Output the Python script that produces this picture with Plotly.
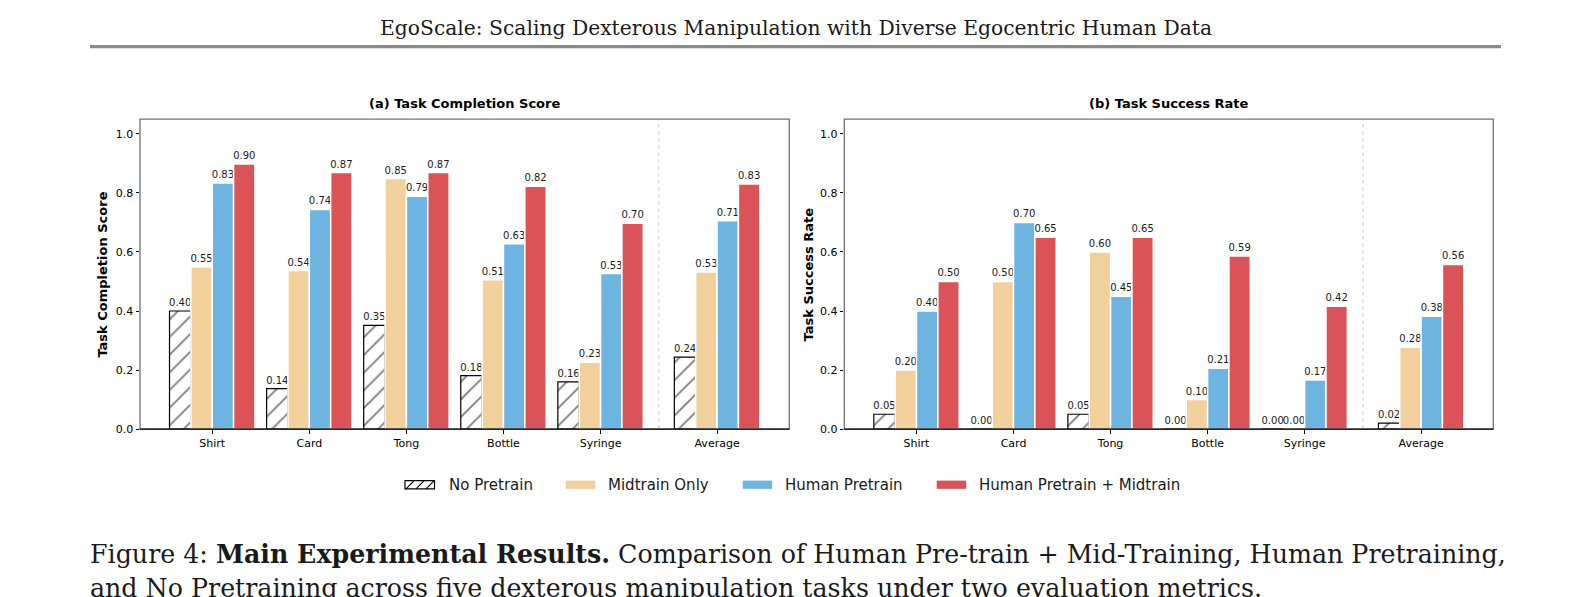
import plotly.graph_objects as go

# ---------------- data ----------------
categories = ["Shirt", "Card", "Tong", "Bottle", "Syringe", "Average"]
cat_pos = [0, 1, 2, 3, 4, 5.2]
series_names = ["No Pretrain", "Midtrain Only", "Human Pretrain", "Human Pretrain + Midtrain"]

completion_no_pretrain = [0.40, 0.137, 0.351, 0.181, 0.16, 0.244]
completion_midtrain = [0.549, 0.537, 0.849, 0.506, 0.226, 0.532]
completion_human = [0.834, 0.744, 0.789, 0.628, 0.527, 0.706]
completion_human_mid = [0.898, 0.869, 0.869, 0.823, 0.697, 0.830]

success_no_pretrain = [0.05, 0.00, 0.05, 0.00, 0.00, 0.02]
success_midtrain = [0.20, 0.50, 0.60, 0.10, 0.00, 0.277]
success_human = [0.40, 0.70, 0.45, 0.206, 0.166, 0.382]
success_human_mid = [0.50, 0.65, 0.65, 0.586, 0.416, 0.558]

y_ticks = [0.0, 0.2, 0.4, 0.6, 0.8, 1.0]
panel_titles = ["(a) Task Completion Score", "(b) Task Success Rate"]
y_titles = ["Task Completion Score", "Task Success Rate"]

header_text = "EgoScale: Scaling Dexterous Manipulation with Diverse Egocentric Human Data"
caption_line1 = ("Figure 4: <b>Main Experimental Results.</b> Comparison of Human Pre-train + "
                 "Mid-Training, Human Pretraining,")
caption_line2 = "and No Pretraining across five dexterous manipulation tasks under two evaluation metrics."

colors = ["#ffffff", "#F2D09C", "#6DB4E0", "#D95359"]

# ---------------- layout helpers ----------------
W, H = 1592, 597
H_EFF = 589.0  # effective paper height observed in the rendered page
def px(x):
    return x / W
def py(y):
    return 1 - y / H_EFF

SANS = "DejaVu Sans"
SERIF = "DejaVu Serif"
bar_w = 0.22
n_series = 4

fig = go.Figure()

panels = [
    (["x", "y"], [completion_no_pretrain, completion_midtrain, completion_human, completion_human_mid]),
    (["x2", "y2"], [success_no_pretrain, success_midtrain, success_human, success_human_mid]),
]

for (xa, ya), series in panels:
    for i, vals in enumerate(series):
        if i == 0:
            marker = dict(color="#ffffff",
                          line=dict(color="black", width=1.2),
                          pattern=dict(shape="/", fgcolor="black", bgcolor="white",
                                       size=12.5, solidity=0.15))
        else:
            marker = dict(color=colors[i], line=dict(color="white", width=1.5))
        fig.add_trace(go.Bar(
            x=cat_pos, y=vals, xaxis=xa, yaxis=ya,
            width=bar_w, offset=-bar_w * n_series / 2 + bar_w * i,
            marker=marker, name=series_names[i], showlegend=False,
            texttemplate="%{y:.2f}", textposition="outside",
            textfont=dict(family=SANS, size=10, color="#1a1a1a"),
            constraintext="none", cliponaxis=False,
            hoverinfo="skip",
        ))

x_range = [-0.744, 5.944]
ydom = [py(428.3), py(119)]
xdoms = [[px(140), px(789.3)], [px(844.3), px(1493.3)]]

axis_common_x = dict(range=x_range, tickvals=cat_pos, ticktext=categories,
                     ticks="outside", ticklen=3.5, tickwidth=1, tickcolor="black",
                     showline=False, showgrid=False, zeroline=False,
                     tickfont=dict(family=SANS, size=11, color="black"))
axis_common_y = dict(range=[0, 1.05], domain=ydom, tickvals=y_ticks,
                     ticktext=[f"{v:.1f}" for v in y_ticks],
                     ticks="outside", ticklen=3.5, tickwidth=1, tickcolor="black",
                     showline=False, showgrid=False, zeroline=False,
                     tickfont=dict(family=SANS, size=11, color="black"))

fig.update_layout(
    width=W, height=H, autosize=False, margin=dict(l=0, r=0, t=0, b=0, pad=0),
    paper_bgcolor="white", plot_bgcolor="white", barmode="overlay",
    showlegend=False,
    xaxis=dict(domain=xdoms[0], anchor="y", **axis_common_x),
    yaxis=dict(anchor="x", **axis_common_y),
    xaxis2=dict(domain=xdoms[1], anchor="y2", **axis_common_x),
    yaxis2=dict(anchor="x2", **axis_common_y),
)

shapes = []
annotations = []
sep_x = (cat_pos[-2] + cat_pos[-1]) / 2
for k, (xr, yr) in enumerate([("x", "y"), ("x2", "y2")]):
    shapes.append(dict(type="line", xref=xr, yref=f"{yr} domain", x0=sep_x, x1=sep_x,
                       y0=0, y1=1, line=dict(color="#cfcfcf", width=1, dash="4px,3px"),
                       layer="below"))
    shapes.append(dict(type="rect", xref=f"{xr} domain", yref=f"{yr} domain",
                       x0=0, x1=1, y0=0, y1=1, line=dict(color="#707070", width=1.3),
                       layer="above"))
    shapes.append(dict(type="line", xref=f"{xr} domain", yref=f"{yr} domain",
                       x0=0, x1=1, y0=0, y1=0, line=dict(color="black", width=1.3),
                       layer="above"))
    annotations.append(dict(text=f"<b>{panel_titles[k]}</b>", xref="paper", yref="paper",
                            x=(xdoms[k][0] + xdoms[k][1]) / 2, y=py(103.5),
                            xanchor="center", yanchor="middle", showarrow=False,
                            font=dict(family=SANS, size=13, color="black")))
    annotations.append(dict(text=f"<b>{y_titles[k]}</b>", xref="paper", yref="paper",
                            x=px([102.5, 808.3][k]), y=(ydom[0] + ydom[1]) / 2,
                            xanchor="center", yanchor="middle", showarrow=False,
                            textangle=-90,
                            font=dict(family=SANS, size=13, color="black")))

# header + rule
annotations.append(dict(text=header_text, xref="paper", yref="paper", x=0.5, y=py(28.4),
                        xanchor="center", yanchor="middle", showarrow=False,
                        font=dict(family=SERIF, size=20.3, color="#1a1a1a")))
shapes.append(dict(type="line", xref="paper", yref="paper", x0=px(90), x1=px(1501),
                   y0=py(46.6), y1=py(46.6), line=dict(color="#8a8a8a", width=3.3)))

# custom legend
leg_y0, leg_y1 = 479.8, 488.0
swatch_x = [405, 565.7, 742.7, 936.7]
text_x = [449.3, 608.3, 785.0, 979.3]
sw_w = 29.5
for i in range(n_series):
    x0 = swatch_x[i]
    if i == 0:
        shapes.append(dict(type="rect", xref="paper", yref="paper",
                           x0=px(x0), x1=px(x0 + sw_w), y0=py(leg_y1), y1=py(leg_y0),
                           fillcolor="white", line=dict(color="black", width=1.2)))
        for k in range(3):
            a = x0 + 1 + k * 10
            shapes.append(dict(type="line", xref="paper", yref="paper",
                               x0=px(a), x1=px(min(a + 8.2, x0 + sw_w)),
                               y0=py(leg_y1), y1=py(leg_y0),
                               line=dict(color="black", width=1.1)))
    else:
        shapes.append(dict(type="rect", xref="paper", yref="paper",
                           x0=px(x0), x1=px(x0 + sw_w), y0=py(leg_y1), y1=py(leg_y0),
                           fillcolor=colors[i], line=dict(width=0)))
    annotations.append(dict(text=series_names[i], xref="paper", yref="paper",
                            x=px(text_x[i] - 2), y=py(484.2), xanchor="left", yanchor="middle",
                            showarrow=False, font=dict(family=SANS, size=15, color="#1a1a1a")))

# caption
annotations.append(dict(text=caption_line1, xref="paper", yref="paper", x=px(88), y=py(553.3),
                        xanchor="left", yanchor="middle", showarrow=False,
                        font=dict(family=SERIF, size=25.3, color="#1a1a1a")))
annotations.append(dict(text=caption_line2, xref="paper", yref="paper", x=px(88), y=py(587.5),
                        xanchor="left", yanchor="middle", showarrow=False,
                        font=dict(family=SERIF, size=25.3, color="#1a1a1a")))

fig.update_layout(shapes=shapes, annotations=annotations)
fig.write_html("out.html", default_width="1592px", default_height="597px",
               config={"responsive": False})
